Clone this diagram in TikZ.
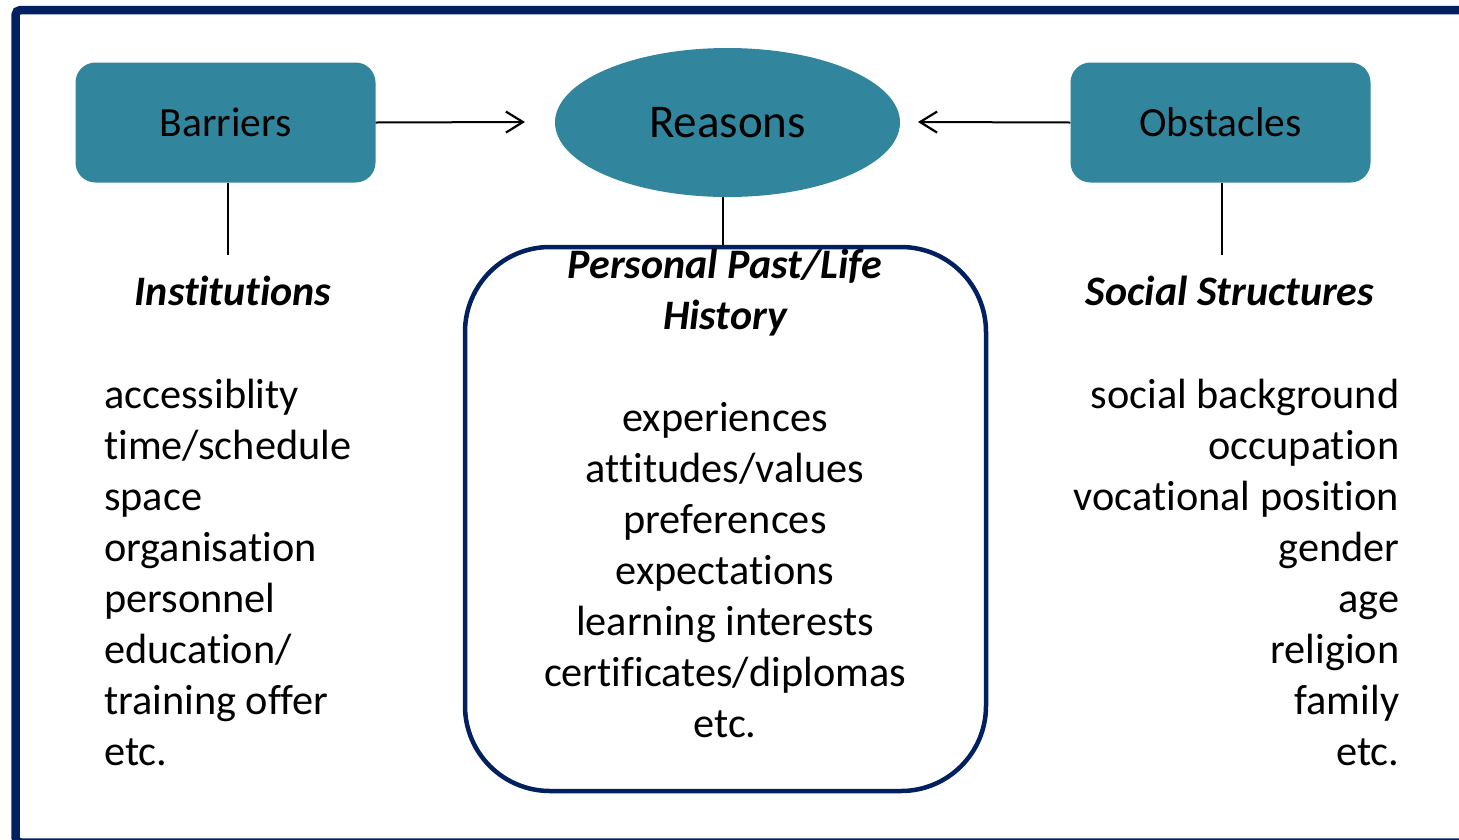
\documentclass[tikz,border=0pt]{standalone}
\usepackage{fontspec}
\setmainfont{Carlito}[Ligatures={NoCommon,NoContextual,NoRequired,NoRare}, RawFeature={-liga;-clig;-calt;-dlig;-rlig}]
\usetikzlibrary{shapes.geometric,arrows.meta}
\definecolor{teal}{HTML}{31859C}
\definecolor{navy}{HTML}{002060}
\newcommand{\nl}{\kern0pt }
\tikzset{
  tealbox/.style={fill=teal, draw=none, rounded corners=20pt, minimum width=300pt, minimum height=120pt, inner sep=0pt, font=\fontsize{41.5}{49}\selectfont},
  oval/.style={ellipse, fill=teal, draw=none, minimum width=345pt, minimum height=149pt, inner sep=0pt, font=\fontsize{47}{55}\selectfont},
  lifebox/.style={draw=navy, line width=4.5pt, rounded corners=85pt, minimum width=521pt, minimum height=544pt, inner sep=0pt},
  arr/.style={line width=2pt, -{Straight Barb[length=17pt,width=21pt,line width=2.2pt]}},
  stem/.style={line width=1.5pt},
  head/.style={font=\fontsize{42}{51}\selectfont\bfseries\itshape, inner sep=0pt},
  item/.style={font=\fontsize{42.3}{51}\selectfont, inner sep=0pt},
}
\begin{document}
\begin{tikzpicture}[x=1pt,y=-1pt]
\useasboundingbox (0,0) rectangle (1459,839);
% frame
\draw[navy, line width=8.5pt, rounded corners=5pt] (15.5,10) -- (1475,10) -- (1475,842.5) -- (15.5,842.5) -- cycle;
% main nodes
\node[tealbox] (barriers) at (225.5,122.5) {Barriers};
\node[tealbox] (obstacles) at (1220.5,122.5) {Obstacles};
\node[oval] (reasons) at (727.5,122.5) {Reasons};
\node[lifebox] (life) at (725.5,519) {};
% arrows
\coordinate (a1) at (525,122);
\coordinate (a2) at (918,122);
\draw[arr] (barriers.east) -- (a1);
\draw[arr] (obstacles.west) -- (a2);
% stems
\coordinate (s1) at (228,255);
\coordinate (s2) at (1222,255);
\coordinate (s3) at (723,197);
\draw[stem] (s1 |- barriers.south) -- (s1);
\draw[stem] (s2 |- obstacles.south) -- (s2);
\draw[stem] (s3) -- (s3 |- life.north);
% headings
\node[head, anchor=base] (h1) at (233,305) {Inst\nl it\nl ut\nl ions};
\node[head, anchor=base] (h2a) at (725,278) {Personal Past/Life};
\node[head, anchor=base] (h2b) at (725,329) {History};
\node[head, anchor=base] (h3) at (1230,305) {Social Structures};
% left list
\foreach \t [count=\i from 0] in {accessiblity, t\nl ime/schedule, space, organisat\nl ion, personnel, educat\nl ion/, training of\nl fer, etc.}
  \node[item, anchor=base west] (l\i) at (104,{408+51.1*\i}) {\t};
% middle list
\foreach \t [count=\i from 0] in {experiences, att\nl it\nl udes/values, preferences, expectat\nl ions, learning interests, cert\nl if\nl icates/diplomas, etc.}
  \node[item, anchor=base] (m\i) at (725,{431+51.1*\i}) {\t};
% right list
\foreach \t [count=\i from 0] in {social background, occupat\nl ion, vocat\nl ional posit\nl ion, gender, age, religion, family, etc.}
  \node[item, anchor=base east] (r\i) at (1399.5,{408+51.1*\i}) {\t};
\end{tikzpicture}
\end{document}
